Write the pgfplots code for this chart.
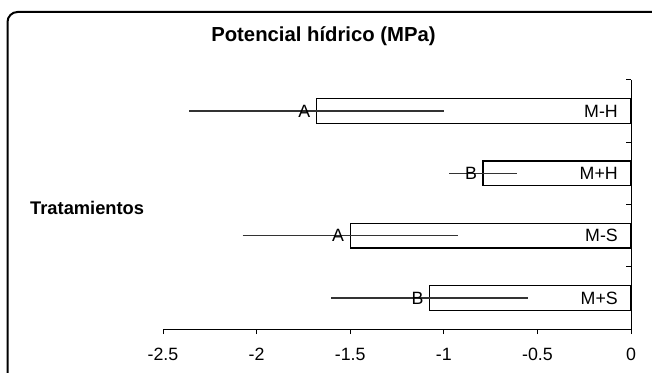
\documentclass[border=0pt]{standalone}
\usepackage{pgfplots}
\pgfplotsset{compat=1.18}
\usepackage{pgfplotstable}
\usepackage{fontspec}
\setmainfont{Liberation Sans}
\pgfplotstableread{
p m e zero lab name
0.5 -1.075 0.525 0 B M+S
1.5 -1.50 0.575 0 A M-S
2.5 -0.79 0.18 0 B M+H
3.5 -1.68 0.68 0 A M-H
}\datatab
\begin{document}
\begin{tikzpicture}[x=1bp,y=1bp]
\useasboundingbox (0,0) rectangle (652,372);
\begin{scope}
\clip (0,0) rectangle (652,372);
\draw[line width=2bp, rounded corners=10bp] (7.5,-30) rectangle (700,360);
\end{scope}
\node[font=\bfseries\fontsize{20.3bp}{24bp}\selectfont] at (323.5,335.5) {Potencial hídrico (MPa)};
\node[font=\bfseries\fontsize{18.3bp}{22bp}\selectfont, anchor=west, inner sep=0pt] at (30,164) {Tratamientos};
\begin{axis}[
 at={(163bp,43bp)}, anchor=south west, scale only axis, width=468bp, height=249bp,
 xmin=-2.5, xmax=0, ymin=0, ymax=4,
 axis x line=bottom, axis y line=right, axis line style={-, line width=1bp},
 xtick={-2.5,-2,-1.5,-1,-0.5,0}, ytick={0,1,2,3,4}, yticklabels={},
 tick align=outside, major tick length=5bp, ytick style={xshift=-5bp}, tick style={black, line width=1bp},
 /pgf/number format/assume math mode=true,
 ticklabel style={font=\fontsize{17.8bp}{21bp}\selectfont},
 xticklabel style={yshift=-11bp},
 clip=false,
]
\addplot[xbar, bar width=0.4, fill=white, draw=black, line width=1.3bp,
 error bars/.cd, x dir=both, x explicit, error mark=none,
 error bar style={line width=1.5bp, color=black!80}]
 table[x=m, y=p, x error=e]{\datatab};
\addplot[draw=none, mark=none, nodes near coords, point meta=explicit symbolic,
 every node near coord/.append style={anchor=east, font=\fontsize{17.8bp}{21bp}\selectfont, inner sep=0pt, xshift=-6bp}]
 table[x=m, y=p, meta=lab]{\datatab};
\addplot[draw=none, mark=none, nodes near coords, point meta=explicit symbolic,
 every node near coord/.append style={anchor=east, font=\fontsize{17.8bp}{21bp}\selectfont, inner sep=0pt, xshift=-13bp}]
 table[x=zero, y=p, meta=name]{\datatab};
\end{axis}
\end{tikzpicture}
\end{document}
